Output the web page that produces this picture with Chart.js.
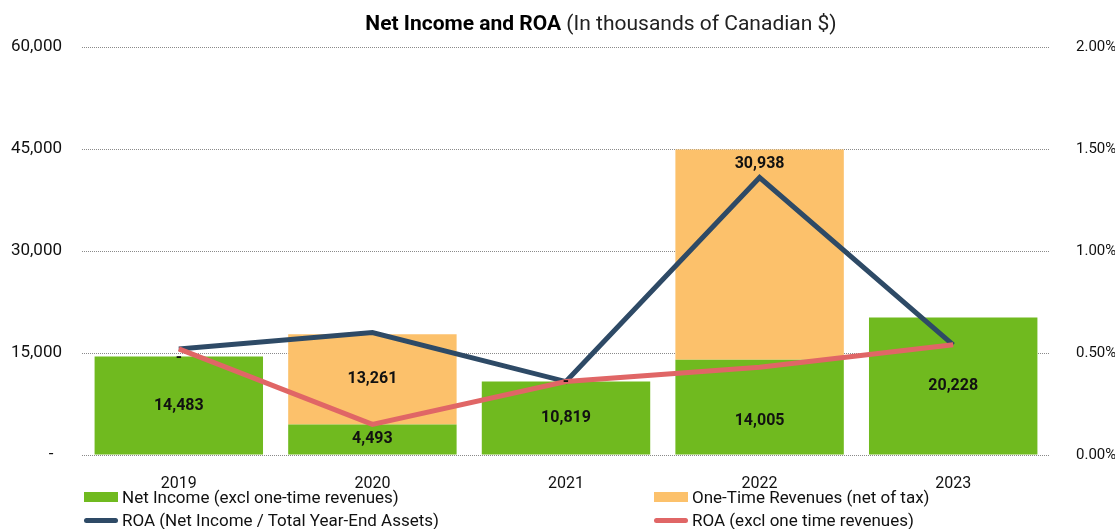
<!DOCTYPE html>
<html>
<head>
<meta charset="utf-8">
<script src="https://cdn.jsdelivr.net/npm/chart.js@4.4.1/dist/chart.umd.min.js"></script>
<style>
  html, body { margin: 0; padding: 0; background: #fff; }
  #wrap { position: relative; width: 1115px; height: 529px; }
  #legend { position: absolute; left: 0; top: 0; width: 1115px; height: 529px; pointer-events: none;
            font-family: Roboto, "Noto Sans", sans-serif; font-size: 17px; color: #111; }
  .item { position: absolute; display: flex; align-items: center; white-space: nowrap; height: 20px; }
  .swatch { width: 34px; height: 10px; margin-right: 4px; }
  .stroke { width: 34px; height: 5px; border-radius: 3px; margin-right: 4px; }
</style>
</head>
<body>
<div id="wrap">
  <canvas id="chart" width="1115" height="529"></canvas>
  <div id="legend"></div>
</div>
<script>
const years = ['2019', '2020', '2021', '2022', '2023'];
// thousands of CAD
const netIncome = [14483, 4493, 10819, 14005, 20228];
const oneTime = [0, 13261, 0, 30938, null];
// percent of total year-end assets
const roa = [0.52, 0.60, 0.36, 1.36, 0.54];
const roaExcl = [0.52, 0.15, 0.36, 0.43, 0.54];

const leftTicks = [0, 15000, 30000, 45000, 60000];
const rightTicks = [0, 0.5, 1, 1.5, 2];

const GREEN = '#70ba1f';
const ORANGE = '#fcc16b';
const BLUE = '#2e4a66';
const RED = '#e06666';
const FONT = 'Roboto, "Noto Sans", sans-serif';

const barLabels = {
  id: 'barLabels',
  afterDatasetsDraw(chart) {
    const ctx = chart.ctx;
    ctx.save();
    ctx.font = 'bold 16px ' + FONT;
    ctx.fillStyle = '#111';
    ctx.textAlign = 'center';
    ctx.textBaseline = 'middle';
    chart.data.datasets.forEach((ds, di) => {
      if (ds.type !== 'bar') return;
      const meta = chart.getDatasetMeta(di);
      meta.data.forEach((el, i) => {
        const v = ds.data[i];
        if (v === null || v === undefined) return;
        if (v === 0) {
          ctx.fillText('-', el.x, el.y + 1);
          return;
        }
        let y = (el.y + el.base) / 2;
        const anchor = ds.labelAnchor ? ds.labelAnchor[i] : 'center';
        if (anchor === 'end') y = el.y + 15;
        if (anchor === 'low') y = el.base - 34;
        ctx.fillText(v.toLocaleString('en-US'), el.x, y);
      });
    });
    ctx.restore();
  }
};

const titlePlugin = {
  id: 'mixedTitle',
  afterDraw(chart) {
    const ctx = chart.ctx;
    const bold = 'Net Income and ROA';
    const rest = ' (In thousands of Canadian $)';
    ctx.save();
    ctx.textBaseline = 'middle';
    ctx.textAlign = 'left';
    ctx.font = 'bold 21px ' + FONT;
    const wb = ctx.measureText(bold).width;
    ctx.font = '21px ' + FONT;
    const wr = ctx.measureText(rest).width;
    const x0 = 601 - (wb + wr) / 2;
    ctx.fillStyle = '#000';
    ctx.font = 'bold 21px ' + FONT;
    ctx.fillText(bold, x0, 25);
    ctx.font = '21px ' + FONT;
    ctx.fillStyle = '#222';
    ctx.fillText(rest, x0 + wb, 25);
    ctx.restore();
  }
};

const chart = new Chart(document.getElementById('chart'), {
  data: {
    labels: years,
    datasets: [
      {
        type: 'bar',
        label: 'Net Income (excl one-time revenues)',
        data: netIncome,
        backgroundColor: GREEN,
        stack: 'ni',
        yAxisID: 'y',
        order: 3,
        labelAnchor: ['center', 'center', 'center', 'low', 'center'],
      },
      {
        type: 'bar',
        label: 'One-Time Revenues (net of tax)',
        data: oneTime,
        backgroundColor: ORANGE,
        stack: 'ni',
        yAxisID: 'y',
        order: 3,
        labelAnchor: ['center', 'center', 'center', 'end', 'center'],
      },
      {
        type: 'line',
        label: 'ROA (Net Income / Total Year-End Assets)',
        data: roa,
        borderColor: BLUE,
        borderWidth: 5,
        pointRadius: 0,
        tension: 0,
        yAxisID: 'y1',
        order: 2,
      },
      {
        type: 'line',
        label: 'ROA (excl one time revenues)',
        data: roaExcl,
        borderColor: RED,
        borderWidth: 5,
        pointRadius: 0,
        tension: 0,
        yAxisID: 'y1',
        order: 1,
      },
    ],
  },
  options: {
    responsive: false,
    animation: false,
    layout: { padding: { top: 47, left: 0, right: 0, bottom: 0 } },
    datasets: { bar: { categoryPercentage: 0.87, barPercentage: 1 } },
    plugins: { legend: { display: false }, tooltip: { enabled: false } },
    scales: {
      x: {
        stacked: true,
        grid: { display: false },
        border: { display: false },
        ticks: { color: '#111', font: { family: FONT, size: 16 }, padding: 11 },
        afterFit: (s) => { s.height = 74; },
      },
      y: {
        stacked: true,
        position: 'left',
        min: 0,
        max: 60000,
        afterBuildTicks: (s) => { s.ticks = leftTicks.map((v) => ({ value: v })); },
        grid: { color: '#8a8a8a', lineWidth: 1, drawTicks: false },
        border: { display: false, dash: [1, 1] },
        ticks: {
          color: '#111',
          padding: 20,
          font: { family: FONT, size: 17 },
          callback: (v) => (v === 0 ? '-  ' : v.toLocaleString('en-US')),
        },
        afterFit: (s) => { s.width = 82; },
      },
      y1: {
        position: 'right',
        min: 0,
        max: 2,
        afterBuildTicks: (s) => { s.ticks = rightTicks.map((v) => ({ value: v })); },
        grid: { display: false },
        border: { display: false },
        ticks: {
          color: '#111',
          padding: 18,
          font: { family: FONT, size: 15 },
          callback: (v) => v.toFixed(2) + '%',
        },
        afterFit: (s) => { s.width = 65; },
      },
    },
  },
  plugins: [barLabels, titlePlugin],
});

// two-column legend under the axis
const legend = document.getElementById('legend');
const slots = [[84, 497], [654, 497], [84, 520], [654, 520]];
chart.data.datasets.forEach((ds, i) => {
  const item = document.createElement('div');
  item.className = 'item';
  item.style.left = slots[i][0] + 'px';
  item.style.top = (slots[i][1] - 10) + 'px';
  const mark = document.createElement('span');
  mark.className = ds.type === 'bar' ? 'swatch' : 'stroke';
  mark.style.background = ds.type === 'bar' ? ds.backgroundColor : ds.borderColor;
  const text = document.createElement('span');
  text.textContent = ds.label;
  item.appendChild(mark);
  item.appendChild(text);
  legend.appendChild(item);
});
</script>
</body>
</html>
